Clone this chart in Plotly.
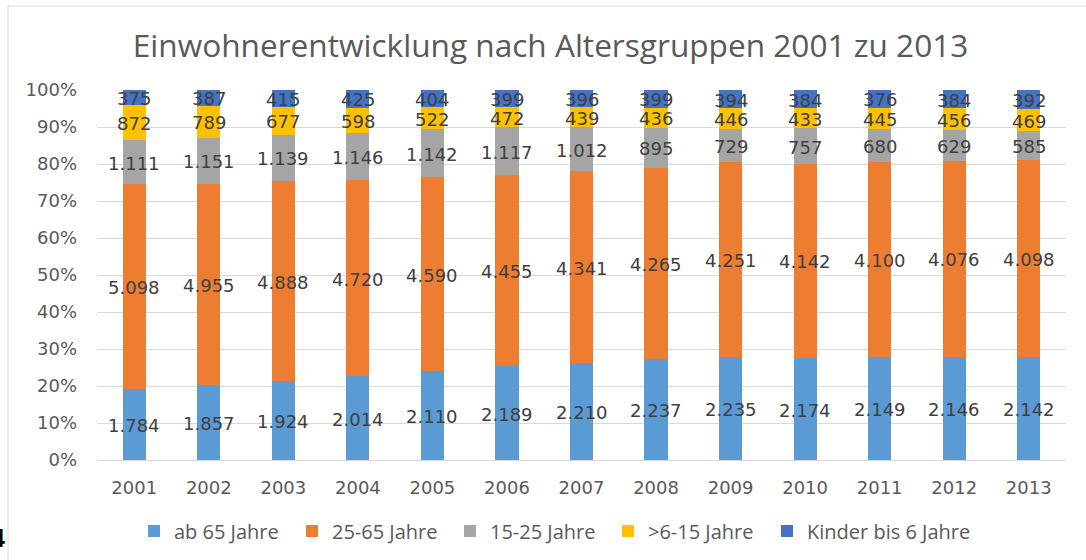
import plotly.graph_objects as go

years = ["2001", "2002", "2003", "2004", "2005", "2006", "2007", "2008", "2009", "2010", "2011", "2012", "2013"]
ab65 = [1784, 1857, 1924, 2014, 2110, 2189, 2210, 2237, 2235, 2174, 2149, 2146, 2142]
j25_65 = [5098, 4955, 4888, 4720, 4590, 4455, 4341, 4265, 4251, 4142, 4100, 4076, 4098]
j15_25 = [1111, 1151, 1139, 1146, 1142, 1117, 1012, 895, 729, 757, 680, 629, 585]
j6_15 = [872, 789, 677, 598, 522, 472, 439, 436, 446, 433, 445, 456, 469]
kinder = [375, 387, 415, 425, 404, 399, 396, 399, 394, 384, 376, 384, 392]

series = [
    ("ab 65 Jahre", ab65, "#5B9BD5", "legend"),
    ("25-65 Jahre", j25_65, "#ED7D31", "legend"),
    ("15-25 Jahre", j15_25, "#A5A5A5", "legend"),
    (">6-15 Jahre", j6_15, "#FFC000", "legend"),
    ("Kinder bis 6 Jahre", kinder, "#4472C4", "legend2"),
]


def de(v):
    return f"{v:,}".replace(",", ".")


totals = [sum(s[1][i] for s in series) for i in range(len(years))]

fig = go.Figure()
for name, vals, color, lg in series:
    fig.add_trace(go.Bar(
        x=years, y=vals, name=name, marker_color=color, marker_line_width=0,
        textposition="none", hoverinfo="name+y", legend=lg,
    ))

# data labels at the middle of each stacked segment (percent scale)
annotations = []
for i in range(len(years)):
    base = 0.0
    for name, vals, color, lg in series:
        pct = vals[i] / totals[i] * 100
        annotations.append(dict(
            x=i, y=base + pct / 2, xref="x", yref="y", text=de(vals[i]),
            showarrow=False, xanchor="center", yanchor="middle", yshift=-1,
            font=dict(family="DejaVu Sans", size=18, color="#404040"),
        ))
        base += pct

annotations.append(dict(text="<b>4</b>", xref="paper", yref="paper",
                        x=(7 - 97) / 969, xanchor="right", y=(460 - 538) / 370, yanchor="middle",
                        showarrow=False, font=dict(family="Liberation Sans", size=25, color="black")))

legend_font = dict(family="Open Sans", size=20, color="#595959")
legend_y = 1 - 531 / 560

fig.update_layout(
    barmode="stack", barnorm="percent", bargap=0.69,
    width=1086, height=560,
    margin=dict(l=97, r=20, t=90, b=100, autoexpand=False),
    paper_bgcolor="white", plot_bgcolor="white",
    title=dict(text="Einwohnerentwicklung nach Altersgruppen 2001 zu 2013",
               x=0.507, xanchor="center", y=0.918, yanchor="middle", yref="container",
               font=dict(family="Open Sans", size=31.6, color="#595959")),
    legend=dict(orientation="h", x=(134 - 97) / 969, xanchor="left",
                y=legend_y, yref="container", yanchor="middle",
                entrywidth=113, entrywidthmode="pixels", font=legend_font,
                traceorder="normal"),
    legend2=dict(orientation="h", x=(767 - 97) / 969, xanchor="left",
                 y=legend_y, yref="container", yanchor="middle", font=legend_font),
    xaxis=dict(type="category", showgrid=False, automargin=False,
               tickfont=dict(family="DejaVu Sans", size=18, color="#595959"),
               ticks="", showline=False, ticklabelstandoff=15),
    yaxis=dict(range=[0, 100], dtick=10, ticksuffix="%", showgrid=True, gridcolor="#D9D9D9",
               gridwidth=1, zeroline=True, zerolinecolor="#D9D9D9", zerolinewidth=1,
               automargin=False,
               tickfont=dict(family="DejaVu Sans", size=18, color="#595959"),
               ticks="", showline=False, ticklabelstandoff=19),
    shapes=[dict(type="rect", xref="paper", yref="paper",
                 x0=(8 - 97) / 969, x1=1.1, y0=-0.3, y1=(460 - 6) / 370,
                 line=dict(color="#D9D9D9", width=1), layer="below")],
    annotations=annotations,
)

fig.write_html("out.html", config={"displayModeBar": False},
               post_script="document.body.style.margin='0';")
